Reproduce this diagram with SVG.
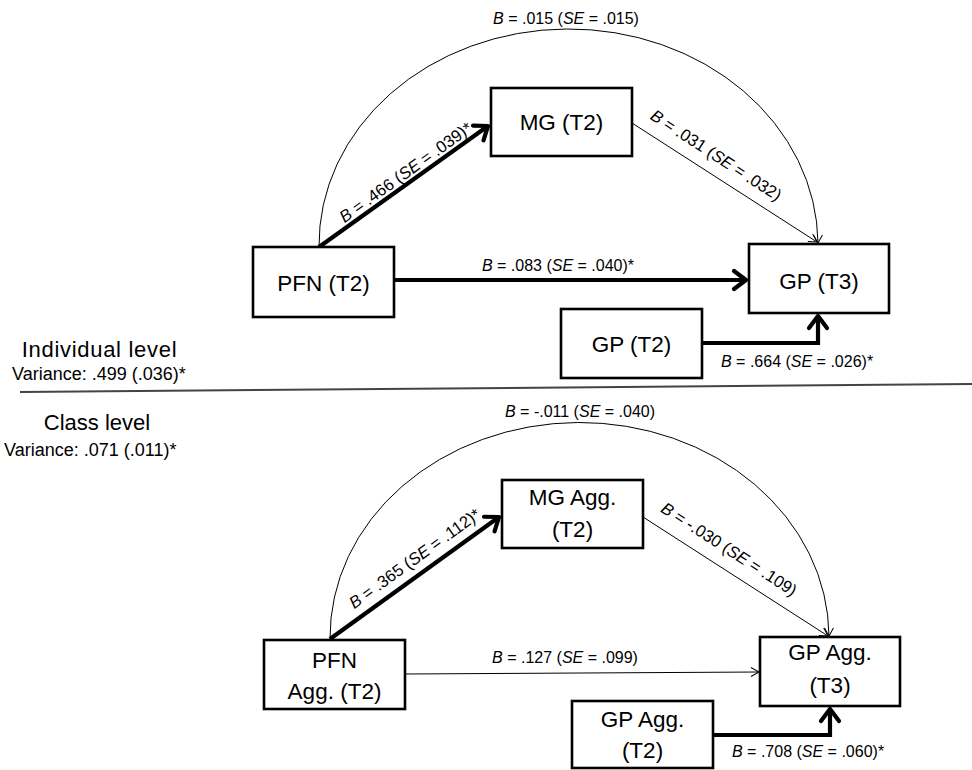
<svg xmlns="http://www.w3.org/2000/svg" width="972" height="770" viewBox="0 0 972 770">
<style>
text{font-family:"Liberation Sans",Arial,sans-serif;fill:#000}
.node rect{fill:#fff;stroke:#000;stroke-width:2.6}
.node text{font-size:22.5px;text-anchor:middle}
.lbl{font-size:16px}
.rot{font-size:16.7px}
.mid{text-anchor:middle}
.i{font-style:italic}
.thick{fill:none;stroke:#000;stroke-width:4.2;marker-end:url(#ahk)}
.thin{fill:none;stroke:#000;stroke-width:1;marker-end:url(#ahn)}
.head{font-size:22px;text-anchor:middle}
.var{font-size:18px}
</style>
<defs>
<marker id="ahk" markerUnits="userSpaceOnUse" viewBox="-16 -12 20 24" refX="0" refY="0" markerWidth="20" markerHeight="24" orient="auto" overflow="visible">
<path d="M-12,-9 L0,0 L-12,9" fill="none" stroke="#000" stroke-width="4.2" stroke-linecap="round" stroke-linejoin="round"/>
</marker>
<marker id="ahn" markerUnits="userSpaceOnUse" viewBox="-10 -6 12 12" refX="0" refY="0" markerWidth="12" markerHeight="12" orient="auto" overflow="visible">
<path d="M-8,-4.5 L0,0 L-8,4.5" fill="none" stroke="#000" stroke-width="1"/>
</marker>
</defs>

<g id="connectors">
<path class="thin" d="M319,247 A249.5,216 0 0 1 818,243"/>
<path class="thick" d="M319,247 L488,126"/>
<path class="thin" d="M632,123 L817,242"/>
<path class="thick" d="M394,280 L746,280"/>
<path class="thick" d="M702,343 L818,343 L818,316"/>

<path class="thin" d="M330,639 A249.5,215 0 0 1 829,636"/>
<path class="thick" d="M330,639 L499,517"/>
<path class="thin" d="M643,517 L828,636"/>
<path class="thin" d="M405,674 L759,672"/>
<path class="thick" d="M713,735 L830,735 L830,709"/>
</g>

<g id="labels">
<text class="lbl mid" x="566" y="24"><tspan class="i">B</tspan> = .015 (<tspan class="i">SE</tspan> = .015)</text>
<text class="rot mid" transform="translate(409,177) rotate(-35.7)"><tspan class="i">B</tspan> = .466 (<tspan class="i">SE</tspan> = .039)*</text>
<text class="rot mid" transform="translate(713,160) rotate(33)"><tspan class="i">B</tspan> = .031 (<tspan class="i">SE</tspan> = .032)</text>
<text class="lbl mid" x="558" y="271"><tspan class="i">B</tspan> = .083 (<tspan class="i">SE</tspan> = .040)*</text>
<text class="lbl" x="721" y="367"><tspan class="i">B</tspan> = .664 (<tspan class="i">SE</tspan> = .026)*</text>

<text class="lbl mid" x="580" y="417"><tspan class="i">B</tspan> = -.011 (<tspan class="i">SE</tspan> = .040)</text>
<text class="rot mid" transform="translate(418,563) rotate(-35.9)"><tspan class="i">B</tspan> = .365 (<tspan class="i">SE</tspan> = .112)*</text>
<text class="rot mid" transform="translate(726,554) rotate(32.8)"><tspan class="i">B</tspan> = -.030 (<tspan class="i">SE</tspan> = .109)</text>
<text class="lbl mid" x="565" y="663"><tspan class="i">B</tspan> = .127 (<tspan class="i">SE</tspan> = .099)</text>
<text class="lbl" x="732" y="757"><tspan class="i">B</tspan> = .708 (<tspan class="i">SE</tspan> = .060)*</text>
</g>

<g id="levels">
<line x1="20" y1="392" x2="972" y2="384" stroke="#444" stroke-width="2"/>
<text class="head" x="99.5" y="357" letter-spacing="0.7">Individual level</text>
<text class="var" x="12" y="380">Variance: .499 (.036)*</text>
<text class="head" x="97" y="430">Class level</text>
<text class="var" x="4" y="456">Variance: .071 (.011)*</text>
</g>

<g id="node-mg-t2" class="node"><rect x="491" y="88" width="141" height="68"/><text x="561.5" y="130">MG (T2)</text></g>
<g id="node-pfn-t2" class="node"><rect x="253" y="247" width="141" height="70"/><text x="323.5" y="291">PFN (T2)</text></g>
<g id="node-gp-t3" class="node"><rect x="749" y="244" width="140" height="69"/><text x="819" y="289">GP (T3)</text></g>
<g id="node-gp-t2" class="node"><rect x="561" y="309" width="141" height="69"/><text x="631.5" y="352">GP (T2)</text></g>

<g id="node-mg-agg-t2" class="node"><rect x="502" y="480" width="141" height="68"/><text x="572.5" y="505">MG Agg.</text><text x="572.5" y="537">(T2)</text></g>
<g id="node-pfn-agg-t2" class="node"><rect x="264" y="640" width="141" height="69"/><text x="334.5" y="668">PFN</text><text x="334.5" y="699">Agg. (T2)</text></g>
<g id="node-gp-agg-t3" class="node"><rect x="760" y="637" width="140" height="69"/><text x="830" y="660">GP Agg.</text><text x="830" y="693">(T3)</text></g>
<g id="node-gp-agg-t2" class="node"><rect x="572" y="701" width="141" height="67"/><text x="642.5" y="727">GP Agg.</text><text x="642.5" y="758">(T2)</text></g>
</svg>
